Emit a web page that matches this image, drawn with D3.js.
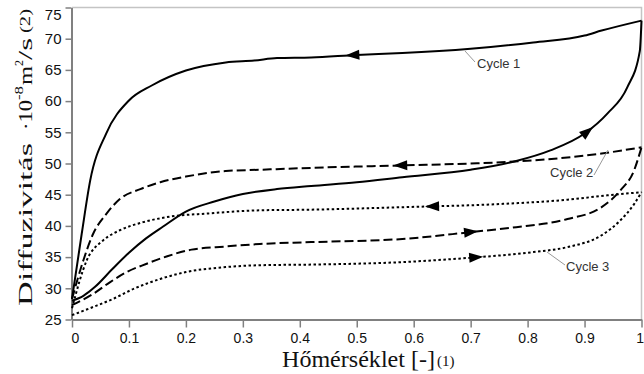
<!DOCTYPE html>
<html><head><meta charset="utf-8">
<script src="https://cdn.jsdelivr.net/npm/d3@7"></script>
<style>body{margin:0;background:#fff}svg{display:block}</style>
</head><body>
<svg id="c" width="644" height="374"></svg>
<script>
// ---------- data ----------
const xTicks = [0,0.1,0.2,0.3,0.4,0.5,0.6,0.7,0.8,0.9,1];
const xTickLabels = ["0","0.1","0.2","0.3","0.4","0.5","0.6","0.7","0.8","0.9","1"];
const yTicks = [25,30,35,40,45,50,55,60,65,70,75];

// Cycle 1 (solid)
const c1HeatX = [0,0.02,0.04,0.07,0.1,0.13,0.16,0.2,0.25,0.3,0.36,0.42,0.5,0.58,0.7,0.78,0.84,0.9,0.94,0.975,0.997,1.0];
const c1HeatY = [28.0,28.8,30.2,33.0,35.7,38.0,39.9,42.3,43.9,45.1,45.9,46.4,47.0,47.8,49.0,50.4,52.1,54.8,58.0,62.2,68.0,72.9];
const c1CoolX = [0,0.017,0.032,0.06,0.1,0.14,0.2,0.27,0.32,0.36,0.42,0.5,0.58,0.7,0.81,0.9,0.93,1.0];
const c1CoolY = [28.3,38.7,47.3,54.8,60.1,62.5,64.9,66.2,66.5,66.9,67.0,67.4,67.7,68.4,69.4,70.5,71.3,72.9];
// Cycle 2 (dashed)
const c2HeatX = [0,0.037,0.067,0.096,0.13,0.166,0.21,0.27,0.33,0.42,0.58,0.7,0.78,0.87,0.93,0.963,0.987,1.0];
const c2HeatY = [27.3,29.1,31.0,32.6,33.9,35.1,36.2,36.7,37.1,37.4,37.9,39.0,39.8,41.1,43.0,45.7,48.9,52.6];
const c2CoolX = [0,0.02,0.037,0.06,0.084,0.12,0.155,0.2,0.27,0.33,0.42,0.58,0.7,0.81,0.93,1.0];
const c2CoolY = [28.3,34.5,38.7,41.9,44.3,45.9,47.0,47.9,48.8,49.0,49.3,49.7,50.0,50.5,51.6,52.6];
// Cycle 3 (dotted)
const c3HeatX = [0,0.037,0.072,0.108,0.155,0.2,0.27,0.33,0.42,0.58,0.7,0.81,0.87,0.93,0.963,0.987,1.0];
const c3HeatY = [25.7,27.0,28.3,29.9,31.5,32.6,33.4,33.7,33.8,34.2,34.9,35.8,36.6,38.5,40.9,43.5,45.4];
const c3CoolX = [0,0.026,0.055,0.084,0.125,0.166,0.24,0.33,0.42,0.58,0.75,0.87,0.94,1.0];
const c3CoolY = [26.8,34.5,37.7,39.3,40.6,41.4,42.0,42.5,42.6,43.0,43.5,44.2,44.9,45.4];

const cycleNames = ["Cycle 1","Cycle 2","Cycle 3"];
// arrow tip positions (x value) on heating / cooling branches
const heatArrowX = [0.915,0.713,0.722];
const coolArrowX = [0.48,0.564,0.62];

// ---------- layout ----------
const svg = d3.select("#c");
const x = d3.scaleLinear().domain([0,1]).range([72,641.5]);
const y = d3.scaleLinear().domain([25,75]).range([319.5,7.5]);

// frame (top & right)
svg.append("path").attr("d",`M${x(0)},${y(75)}H${x(1)}V${y(25)}`)
  .attr("fill","none").attr("stroke","#c4c4c4").attr("stroke-width",1.5);

// axes
const gx = svg.append("g").attr("transform",`translate(0,${y(25)})`)
  .call(d3.axisBottom(x).tickValues(xTicks).tickFormat((d,i)=>xTickLabels[i]).tickSize(8).tickSizeOuter(0).tickPadding(6));
const gy = svg.append("g").attr("transform",`translate(${x(0)-0.5},0)`)
  .call(d3.axisLeft(y).tickValues(yTicks).tickSize(6).tickSizeOuter(0).tickPadding(4));
[gx,gy].forEach(g=>{
  g.select(".domain").attr("stroke","#808080").attr("stroke-width",2);
  g.selectAll(".tick line").attr("stroke","#808080").attr("stroke-width",1.5);
  g.selectAll("text").attr("fill","#111").attr("font-family","'Liberation Sans',Arial,sans-serif");
});
gx.selectAll("text").attr("font-size",14);
gy.selectAll("text").attr("font-size",15);
gx.selectAll(".tick text").filter(d=>d===0).attr("text-anchor","start").attr("x",-1);
gx.selectAll(".tick text").filter(d=>d===1).attr("text-anchor","end").attr("x",2);
gy.selectAll(".tick text").filter(d=>d===75).attr("y",7);

// curves
const line = d3.line().x(d=>x(d[0])).y(d=>y(d[1])).curve(d3.curveMonotoneX);
const dashes = [null,"9,4","2.5,2.5"];
const series = [
  {heat:d3.zip(c1HeatX,c1HeatY), cool:d3.zip(c1CoolX,c1CoolY)},
  {heat:d3.zip(c2HeatX,c2HeatY), cool:d3.zip(c2CoolX,c2CoolY)},
  {heat:d3.zip(c3HeatX,c3HeatY), cool:d3.zip(c3CoolX,c3CoolY)}
];
function pointAtX(path, px){
  const L = path.getTotalLength();
  let lo=0, hi=L;
  for(let i=0;i<40;i++){const m=(lo+hi)/2; if(path.getPointAtLength(m).x<px) lo=m; else hi=m;}
  return lo;
}
function arrow(path, ax, forward){
  const l = pointAtX(path, x(ax));
  const p = path.getPointAtLength(l);
  const a = path.getPointAtLength(Math.max(0,l-3)), b = path.getPointAtLength(l+3);
  let dx=b.x-a.x, dy=b.y-a.y; const n=Math.hypot(dx,dy); dx/=n; dy/=n;
  if(!forward){dx=-dx;dy=-dy;}
  const len=14, w=5;
  const bx=p.x-dx*len, by=p.y-dy*len;
  svg.append("path").attr("d",`M${p.x},${p.y}L${bx-dy*w},${by+dx*w}L${bx+dy*w},${by-dx*w}Z`).attr("fill","#000");
}
series.forEach((s,i)=>{
  ["heat","cool"].forEach(k=>{
    const p = svg.append("path").datum(s[k]).attr("d",line)
      .attr("fill","none").attr("stroke","#000").attr("stroke-width",2)
      .attr("stroke-linejoin","round")
      .attr("stroke-dasharray",dashes[i]);
    arrow(p.node(), k==="heat"?heatArrowX[i]:coolArrowX[i], k==="heat");
  });
});

// cycle labels with leader lines
const labelFont = "'Liberation Sans',Arial,sans-serif";
const labels = [
  {t:cycleNames[0], lx1:465, ly1:51, lx2:475, ly2:62, tx:477, ty:68},
  {t:cycleNames[1], lx1:608, ly1:150, lx2:594, ly2:175, tx:550, ty:177},
  {t:cycleNames[2], lx1:547, ly1:252, lx2:565, ly2:265, tx:566, ty:271}
];
labels.forEach(L=>{
  svg.append("line").attr("x1",L.lx1).attr("y1",L.ly1).attr("x2",L.lx2).attr("y2",L.ly2)
    .attr("stroke","#999").attr("stroke-width",1);
  svg.append("text").attr("x",L.tx).attr("y",L.ty).text(L.t)
    .attr("font-family",labelFont).attr("font-size",13).attr("fill","#333");
});

// axis titles
const serif = "'Liberation Serif','Times New Roman',serif";
svg.append("text").attr("x",282).attr("y",367).text("Hőmérséklet [-]")
  .attr("font-family",serif).attr("font-size",23).attr("fill","#111")
  .attr("textLength",153).attr("lengthAdjust","spacingAndGlyphs");
svg.append("text").attr("x",437).attr("y",366).text("(1)")
  .attr("font-family",serif).attr("font-size",15).attr("fill","#111");

const ySegs = [
  {t:"Diffuzivitás", y0:306, y1:143, fs:19, bx:32},
  {t:"·10", y0:130, y1:100, fs:19, bx:32},
  {t:"-8", y0:100, y1:86, fs:13, bx:23},
  {t:"m", y0:85, y1:66, fs:19, bx:32},
  {t:"2", y0:66, y1:60, fs:13, bx:23},
  {t:"/s", y0:60, y1:38, fs:19, bx:32},
  {t:"(2)", y0:33, y1:9, fs:15, bx:30}
];
ySegs.forEach(s=>{
  svg.append("text").attr("transform",`translate(${s.bx},${s.y0}) rotate(-90)`)
    .text(s.t).attr("font-family",serif).attr("font-size",s.fs).attr("fill","#111")
    .attr("textLength",s.y0-s.y1).attr("lengthAdjust","spacingAndGlyphs");
});
</script>
</body></html>
